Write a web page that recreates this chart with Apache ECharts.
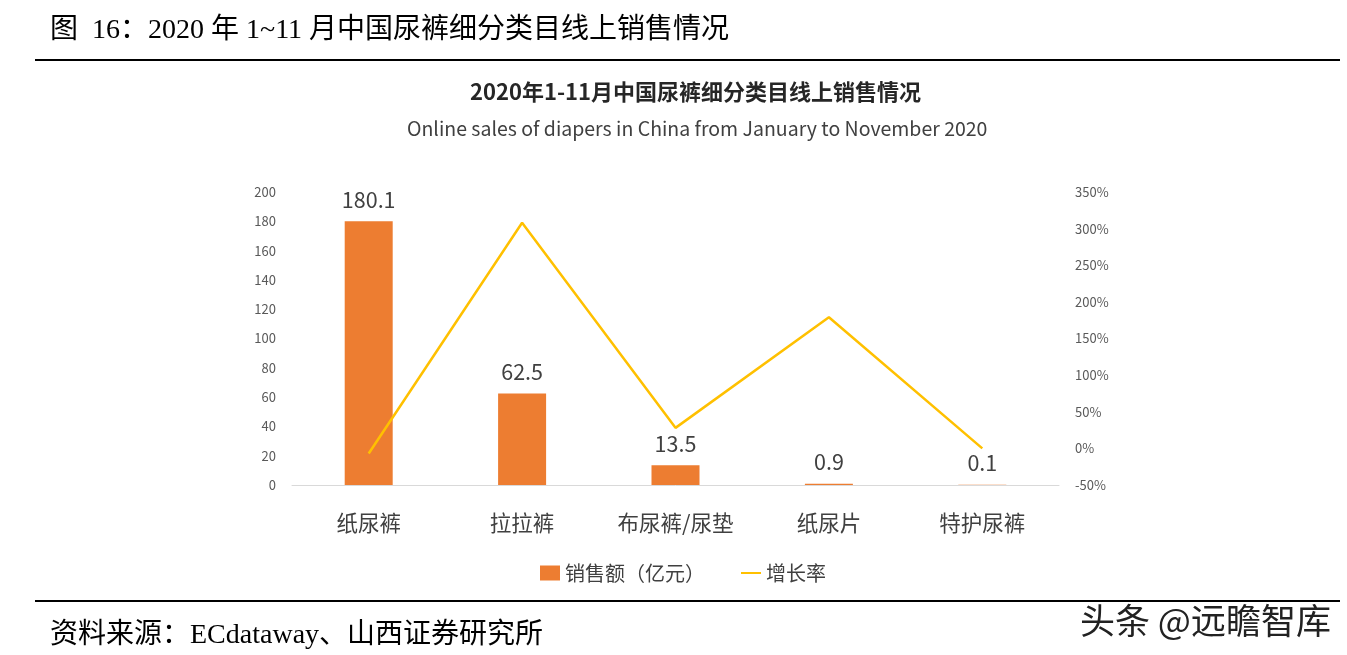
<!DOCTYPE html>
<html><head><meta charset="utf-8">
<script src="https://cdn.jsdelivr.net/npm/echarts@6/dist/echarts.min.js"></script>
<style>html,body{margin:0;padding:0;background:#fff}#c{width:1347px;height:655px}</style>
</head><body><div id="c"></div>
<script>
const categories = ['纸尿裤', '拉拉裤', '布尿裤/尿垫', '纸尿片', '特护尿裤'];
const salesValues = [180.1, 62.5, 13.5, 0.9, 0.1];
const growthValues = [-7, 308, 28, 179, 0];
const leftTicks = {min: 0, max: 200, interval: 20};
const rightTicks = {min: -50, max: 350, interval: 50};

const cjk = '"Noto Sans CJK SC", "Noto Sans", sans-serif';
const serif = '"Liberation Serif", "DejaVu Serif", "Noto Sans CJK SC", serif';
const chart = echarts.init(document.getElementById('c'));
chart.setOption({
  animation: false,
  backgroundColor: '#fff',
  title: [
    {text: '图  16：2020 年 1~11 月中国尿裤细分类目线上销售情况', left: 50, top: 17, padding: 0,
     textStyle: {fontFamily: serif, fontSize: 28, fontWeight: 'normal', color: '#000'}},
    {text: '2020年1-11月中国尿裤细分类目线上销售情况', left: 465, top: 76,
     textStyle: {fontFamily: cjk, fontSize: 22, fontWeight: 'bold', color: '#262626'}},
    {text: 'Online sales of diapers in China from January to November 2020', left: 402, top: 114,
     textStyle: {fontFamily: cjk, fontSize: 19.5, fontWeight: 'normal', color: '#404040'}},
    {text: '资料来源：ECdataway、山西证券研究所', left: 50, top: 622, padding: 0,
     textStyle: {fontFamily: serif, fontSize: 28, fontWeight: 'normal', color: '#000'}},
    {text: '头条 @远瞻智库', left: 1080, top: 603, padding: 0,
     textStyle: {fontFamily: cjk, fontSize: 35, fontWeight: 'normal', color: '#222',
       textBorderColor: '#fff', textBorderWidth: 1}}
  ],
  graphic: [
    {type: 'line', shape: {x1: 35, y1: 60, x2: 1340, y2: 60}, style: {stroke: '#000', lineWidth: 2}},
    {type: 'line', shape: {x1: 35, y1: 601, x2: 1340, y2: 601}, style: {stroke: '#000', lineWidth: 2}}
  ],
  legend: {
    left: 535, top: 558, itemGap: 35, itemWidth: 20, itemHeight: 15,
    textStyle: {fontFamily: cjk, fontSize: 20, color: '#404040'},
    data: [{name: '销售额（亿元）', icon: 'rect'}, {name: '增长率', itemStyle: {opacity: 0}}]
  },
  grid: {left: 292, right: 288, top: 192, bottom: 170, containLabel: false},
  xAxis: {
    type: 'category', data: categories,
    axisLine: {lineStyle: {color: '#D9D9D9', width: 1}},
    axisTick: {show: false},
    axisLabel: {interval: 0, hideOverlap: false, fontFamily: cjk, fontSize: 21.5, color: '#404040', margin: 27}
  },
  yAxis: [
    {type: 'value', min: leftTicks.min, max: leftTicks.max, interval: leftTicks.interval,
     axisLine: {show: false}, axisTick: {show: false}, splitLine: {show: false},
     axisLabel: {fontFamily: cjk, fontSize: 13, color: '#595959', margin: 16}},
    {type: 'value', min: rightTicks.min, max: rightTicks.max, interval: rightTicks.interval,
     axisLine: {show: false}, axisTick: {show: false}, splitLine: {show: false},
     axisLabel: {fontFamily: cjk, fontSize: 13, color: '#595959', margin: 16, formatter: '{value}%'}}
  ],
  series: [
    {name: '销售额（亿元）', type: 'bar', data: salesValues, barWidth: 48, yAxisIndex: 0,
     itemStyle: {color: '#ED7D31'},
     label: {show: true, position: 'top', distance: 11, fontFamily: cjk, fontSize: 21.5, color: '#404040'}},
    {name: '增长率', type: 'line', data: growthValues, yAxisIndex: 1, symbol: 'none',
     lineStyle: {color: '#FFC000', width: 2.5}, itemStyle: {color: '#FFC000'}, z: 3}
  ]
});
</script></body></html>
